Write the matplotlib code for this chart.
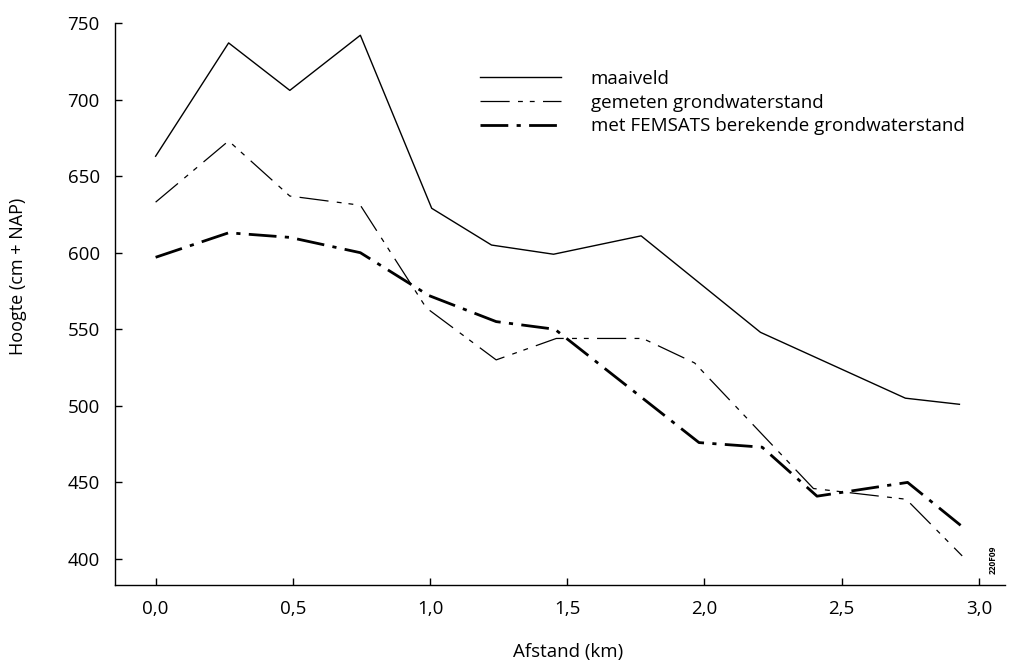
import matplotlib
matplotlib.use("Agg")
import matplotlib.pyplot as plt
from matplotlib.ticker import FuncFormatter

plt.rcParams['font.family'] = ['Open Sans', 'DejaVu Sans']
plt.rcParams['lines.scale_dashes'] = False

# afstand (km) en hoogte (cm + NAP)
x_maaiveld = [0.0, 0.266, 0.489, 0.746, 1.006, 1.224, 1.45, 1.769, 2.204, 2.732, 2.929]
maaiveld = [663, 737, 706, 742, 629, 605, 599, 611, 548, 505, 501]

x_gemeten = [0.0, 0.266, 0.489, 0.746, 0.986, 1.241, 1.46, 1.775, 1.964, 2.397, 2.735, 2.939]
gemeten = [633, 673, 637, 631, 564, 530, 544, 544, 528, 446, 439, 402]

x_berekend = [0.0, 0.266, 0.489, 0.746, 0.996, 1.241, 1.455, 1.98, 2.21, 2.41, 2.74, 2.94]
berekend = [597, 613, 610, 600, 572, 555, 550, 476, 473, 441, 450, 421]

labels = ['maaiveld', 'gemeten grondwaterstand', 'met FEMSATS berekende grondwaterstand']

fig = plt.figure(figsize=(10.1, 6.64), dpi=100)
ax = fig.add_axes([115 / 1010, 79 / 664, 890 / 1010, 562 / 664])

ax.plot(x_maaiveld, maaiveld, color='black', lw=1.0, label=labels[0])
ax.plot(x_gemeten, gemeten, color='black', lw=0.9,
        linestyle=(0, (21, 6, 3.5, 5, 3.5, 6)), label=labels[1])
ax.plot(x_berekend, berekend, color='black', lw=2.0,
        linestyle=(0, (20, 6, 3, 6)), label=labels[2])

ax.set_xlim(-0.148, 3.095)
ax.set_ylim(383, 750)
ax.set_xticks([0, 0.5, 1.0, 1.5, 2.0, 2.5, 3.0])
ax.set_yticks(range(400, 751, 50))
ax.xaxis.set_major_formatter(FuncFormatter(lambda v, p: f"{v:.1f}".replace('.', ',')))

for s in ['top', 'right']:
    ax.spines[s].set_visible(False)
for s in ['left', 'bottom']:
    ax.spines[s].set_linewidth(1.0)

ax.tick_params(direction='in', length=5, width=1, labelsize=13.5)
ax.tick_params(axis='y', pad=11)
ax.tick_params(axis='x', pad=10.5)

ax.set_xlabel('Afstand (km)', fontsize=13.5)
ax.set_ylabel('Hoogte (cm + NAP)', fontsize=13)
ax.xaxis.set_label_coords(0.509, -0.104)
ax.yaxis.set_label_coords(-0.099, 0.55)

ax.legend(loc='upper left', bbox_to_anchor=(480 / 1010, 1 - 70 / 664),
          bbox_transform=fig.transFigure, frameon=False, fontsize=13.5,
          borderpad=0, borderaxespad=0, handlelength=4.3, handletextpad=1.6,
          labelspacing=0.3)

fig.text(993 / 1010, 1 - 560 / 664, '220F09', rotation=90, fontsize=6,
         fontweight='bold', ha='center', va='center')

fig.savefig('out.png', dpi=100)
